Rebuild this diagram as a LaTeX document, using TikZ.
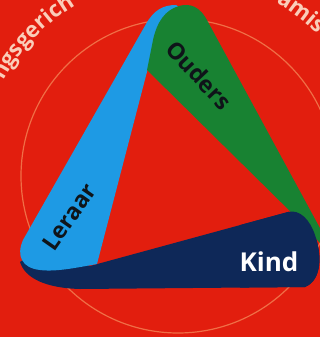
\documentclass[tikz,border=0pt]{standalone}
\usepackage{fontspec}
\usetikzlibrary{decorations.text}
\newfontfamily\osans{Open Sans}
\definecolor{bgred}{RGB}{226,30,14}
\definecolor{ringc}{RGB}{240,110,70}
\definecolor{bandblue}{RGB}{30,154,228}
\definecolor{bandgreen}{RGB}{24,130,50}
\definecolor{bandnavy}{RGB}{14,40,88}
\definecolor{peach}{RGB}{250,205,185}
\definecolor{inkdark}{RGB}{15,20,25}
\begin{document}
\begin{tikzpicture}[x=1pt,y=-1pt,
  lbl/.style={font=\osans\bfseries\fontsize{23}{23}\selectfont, inner sep=0pt},
  arctext/.style={decorate, color=peach, decoration={text along path, text align=left, text={|\osans\bfseries\fontsize{22}{22}\selectfont\color{peach}|#1}}}]
\useasboundingbox (0,0) rectangle (320,337);
\clip (0,0) rectangle (320,337);
\fill[bgred] (0,0) rectangle (320,337);
\coordinate (ctr) at (178,176);
\draw[ringc, line width=1.2pt] (ctr) circle[radius=157];
% arc texts
\path[arctext={ngsgerich}] (ctr) ++(-151.4:199) arc[start angle=-151.4, end angle=-100, radius=199];
\path[arctext={amis}] (ctr) ++(-60.5:199) arc[start angle=-60.5, end angle=-30, radius=199];
% bands
\def\navypath{(90,266) -- (288,212) .. controls (300,209) and (310,220) .. (315,235) .. controls (322,255) and (322,280) .. (305,287) -- (80,289) .. controls (45,288) and (25,278) .. (20,262) -- (40,248) -- cycle}
\fill[bandnavy] \navypath;
\fill[bandblue] (148,68) -- (97,264) .. controls (75,268) and (55,272) .. (40,270) .. controls (22,268) and (16,256) .. (23,240) -- (146,24) .. controls (154,10) and (163,5) .. (176,5) -- (187,12) -- (168,30) -- cycle;
\fill[bandgreen] (147,70) -- (300,221) -- (340,265) -- (208,22) .. controls (200,6) and (190,3) .. (179,6) .. controls (165,10) and (157,22) .. (153,40) -- cycle;
\begin{scope}
  \clip (240,150) rectangle (330,300);
  \fill[bandnavy] \navypath;
\end{scope}
% labels
\node[lbl, text=inkdark, rotate=-47] (ouders) at (199,75) {Ouders};
\node[lbl, text=inkdark, rotate=55] (leraar) at (69,217) {Leraar};
\node[lbl, text=white, font=\osans\bfseries\fontsize{26}{26}\selectfont] (kind) at (269,262) {Kind};
\end{tikzpicture}
\end{document}
